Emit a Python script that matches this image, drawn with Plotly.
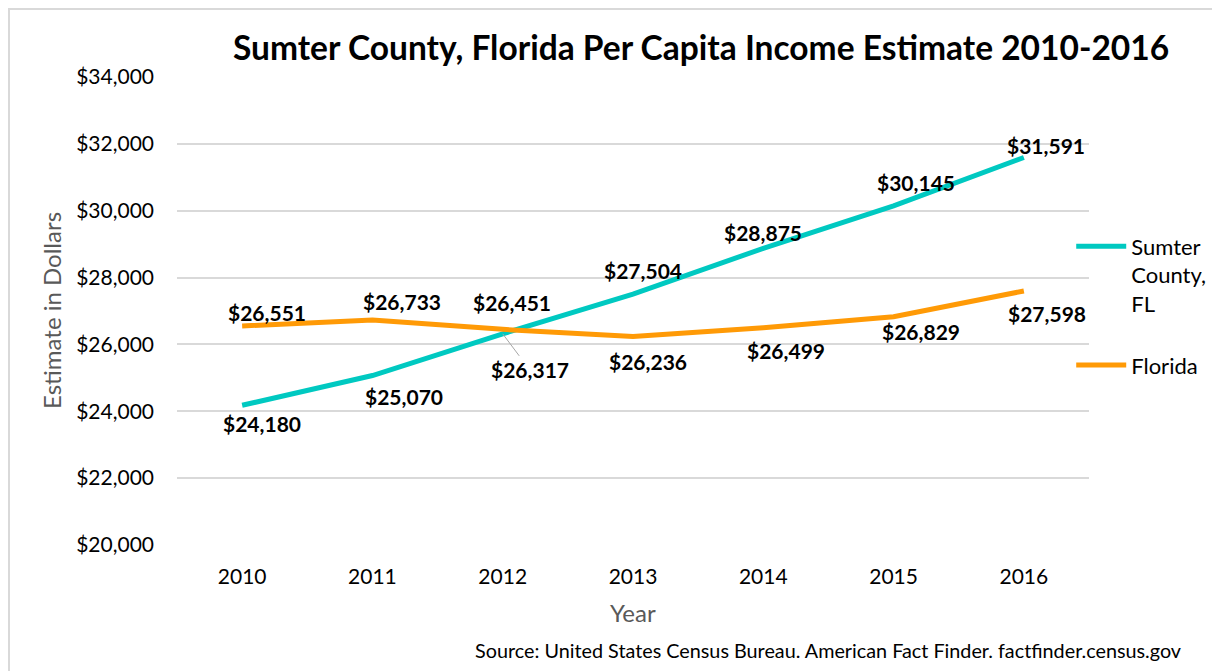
import plotly.graph_objects as go

years = ["2010", "2011", "2012", "2013", "2014", "2015", "2016"]
sumter = [24180, 25070, 26317, 27504, 28875, 30145, 31591]
florida = [26551, 26733, 26451, 26236, 26499, 26829, 27598]
sumter_name = "Sumter<br>County,<br>FL"
florida_name = "Florida"
y_ticks = [20000, 22000, 24000, 26000, 28000, 30000, 32000, 34000]
title_text = "Sumter County, Florida Per Capita Income Estimate 2010-2016"
source_text = "Source: United States Census Bureau. American Fact Finder. factfinder.census.gov"

# label offsets (pixels) - style only
sumter_off = [(20, -18), (32, -21), None, (10, 24), (0, 16), (22, 23), (22, 12)]
sumter_arrow = {2: (27, 36)}
florida_off = [(25, 14), (30, 18), (9, 27), (15, -25), (23, -23), (27, -15), (23, -22)]

FONT = "Lato, Carlito, Calibri, sans-serif"
TEAL = "#00C9C1"
ORANGE = "#FF9A06"

fig = go.Figure()
fig.add_trace(go.Scatter(x=years, y=sumter, mode="lines", name=sumter_name,
                         line=dict(color=TEAL, width=5), legendgroup="a"))
fig.add_trace(go.Scatter(x=years, y=florida, mode="lines", name=florida_name,
                         line=dict(color=ORANGE, width=5), legendgroup="b"))

ann = []
lab_font = dict(family=FONT, size=21, color="#000000")
for i, v in enumerate(sumter):
    txt = "<b>${:,}</b>".format(v)
    if i in sumter_arrow:
        ax, ay = sumter_arrow[i]
        ann.append(dict(x=i, y=v, xref="x", yref="y", text=txt, showarrow=True,
                        ax=ax, ay=ay, arrowhead=0, arrowwidth=1, arrowcolor="#A6A6A6",
                        font=lab_font, standoff=0))
    else:
        dx, dy = sumter_off[i]
        ann.append(dict(x=i, y=v, xref="x", yref="y", text=txt, showarrow=False,
                        xshift=dx, yshift=dy, font=lab_font))
for i, v in enumerate(florida):
    dx, dy = florida_off[i]
    ann.append(dict(x=i, y=v, xref="x", yref="y", text="<b>${:,}</b>".format(v),
                    showarrow=False, xshift=dx, yshift=dy, font=lab_font))

ann.append(dict(text="<b>" + title_text + "</b>", xref="paper", yref="paper",
                x=0.5744, y=1.0, yshift=30, xanchor="center", yanchor="middle",
                showarrow=False, font=dict(family=FONT, size=33.5, color="#000000")))
ann.append(dict(text=source_text, xref="paper", yref="paper", x=1.1, y=0,
                xshift=3, yshift=-105, xanchor="right", yanchor="middle", showarrow=False,
                font=dict(family=FONT, size=19.8, color="#000000")))
ann.append(dict(text="Estimate in Dollars", xref="paper", yref="paper", x=0, y=0.5,
                xshift=-126, xanchor="center", yanchor="middle", textangle=-90,
                showarrow=False, font=dict(family=FONT, size=24, color="#595959")))
ann.append(dict(text="Year", xref="paper", yref="paper", x=0.5, y=0,
                yshift=-67, xanchor="center", yanchor="middle",
                showarrow=False, font=dict(family=FONT, size=24, color="#595959")))

fig.update_layout(
    width=1220, height=671,
    margin=dict(l=169, r=139, t=69, b=134, autoexpand=False),
    paper_bgcolor="white", plot_bgcolor="white",
    font=dict(family=FONT, color="#000000"),
    annotations=ann,
    showlegend=True,
    legend=dict(x=0.9805, y=0.683, xanchor="left", yanchor="top", valign="top",
                font=dict(family=FONT, size=22, color="#000000"),
                tracegroupgap=30, itemwidth=50, bgcolor="rgba(0,0,0,0)"),
    shapes=[dict(type="rect", xref="paper", yref="paper",
                 x0=-0.1842, x1=1.25, y0=-0.4, y1=1.1453,
                 line=dict(color="#D9D9D9", width=2), layer="below")],
)
fig.update_xaxes(type="category", range=[-0.5, 6.5], showgrid=False, showline=False,
                 ticks="", automargin=False, ticklabelstandoff=17,
                 tickfont=dict(family=FONT, size=21, color="#000000"))
fig.update_yaxes(range=[20000, 34000], tickvals=y_ticks,
                 ticktext=["${:,}".format(t) for t in y_ticks],
                 showgrid=True, gridcolor="#D9D9D9", gridwidth=1.5, zeroline=False,
                 showline=False, ticks="", ticklabelstandoff=22, automargin=False,
                 tickfont=dict(family=FONT, size=21, color="#000000"))

fig.write_html("out.html")
